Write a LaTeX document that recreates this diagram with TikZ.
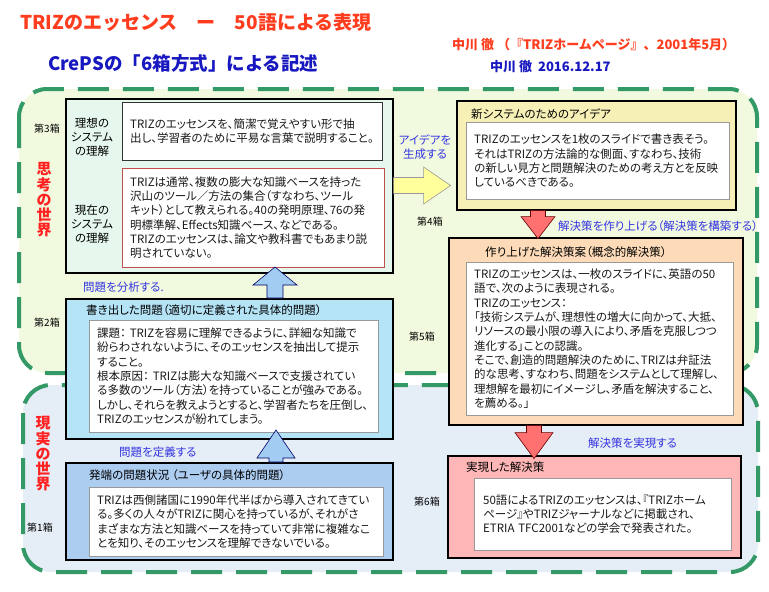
\documentclass[tikz,border=0pt]{standalone}
\usepackage{fontspec}
\setmainfont{Noto Sans CJK JP}[RawFeature=+palt]
\newfontfamily\headjp{Noto Sans CJK JP}
\usepackage{tikz}
\usetikzlibrary{shadows}
\definecolor{titlered}{HTML}{FF3C1E}
\definecolor{titleblue}{HTML}{1818C0}
\definecolor{labelblue}{HTML}{3434E0}
\definecolor{worldred}{HTML}{FF2020}
\definecolor{dashgreen}{HTML}{339966}
\definecolor{thinkfill}{HTML}{F1FADE}
\definecolor{realfill}{HTML}{E5EDF6}
\definecolor{boxthree}{HTML}{E6F8EE}
\definecolor{boxtwo}{HTML}{B6E4F7}
\definecolor{boxone}{HTML}{ACCCF0}
\definecolor{boxfour}{HTML}{F6EFB6}
\definecolor{boxfive}{HTML}{FDDBB8}
\definecolor{boxsix}{HTML}{FFB6B6}
\definecolor{nowred}{HTML}{C0504D}
\definecolor{ideayellow}{HTML}{FFFF9C}
\definecolor{solvered}{HTML}{FF7070}
\definecolor{problemblue}{HTML}{A2CCF2}
\newcommand{\boxfont}{\fontsize{11.5}{14.3}\selectfont}

\begin{document}
\begin{tikzpicture}[x=1pt, y=-1pt,
    world/.style={dashgreen, line width=4pt, dash pattern=on 31pt off 14pt, rounded corners=28pt},
    sixbox/.style={draw=black, line width=1.6pt, anchor=north west, inner sep=0pt},
    textbox/.style={draw=gray!80, fill=white, anchor=north west, align=left, inner xsep=8pt, inner ysep=0pt, font=\boxfont, text=black!90, drop shadow={shadow xshift=1.2pt, shadow yshift=-1.2pt, fill=gray!60, opacity=1}},
    boxtitle/.style={anchor=west, font=\boxfont, inner sep=0pt},
    boxno/.style={font=\fontsize{10}{12}\selectfont, inner sep=0pt},
    flowlabel/.style={anchor=west, font=\boxfont, text=labelblue, inner sep=0pt},
    worldlabel/.style={align=center, font=\fontsize{15}{15.2}\selectfont\bfseries, text=worldred, inner sep=0pt},
    ideaarrow/.style={fill=ideayellow, draw=gray!80, line width=0.6pt},
    solvearrow/.style={fill=solvered, draw=red!40!black, line width=0.6pt},
    probarrow/.style={fill=problemblue, draw=blue!40!black, line width=0.6pt}]
    \useasboundingbox (0,0) rectangle (769,592);
    \fill[white] (0,0) rectangle (769,592);

    % Title
    \node[anchor=west, font=\headjp\fontsize{19}{21}\selectfont\bfseries, text=titlered, inner sep=0pt] (title) at (20,22) {TRIZのエッセンス　ー　50語による表現};
    \node[anchor=west, font=\headjp\fontsize{13}{15}\selectfont\bfseries, text=titlered, inner sep=0pt] (source) at (452,45) {中川 徹 （『TRIZホームページ』、2001年5月）};
    \node[anchor=west, font=\headjp\fontsize{18.5}{20}\selectfont\bfseries, text=titleblue, inner sep=0pt] (subtitle) at (48,63) {CrePSの「6箱方式」による記述};
    \node[anchor=west, font=\headjp\fontsize{13}{15}\selectfont\bfseries, text=titleblue, inner sep=0pt] (date) at (490,67) {中川 徹\ \ 2016.12.17};

    % Two worlds
    \fill[thinkfill, rounded corners=28pt] (19,89) rectangle (757,373);
    \draw[world] (19,89) rectangle (757,373);
    \fill[realfill, rounded corners=28pt] (23,385) rectangle (758,572);
    \draw[world] (23,385) rectangle (758,572);
    \node[worldlabel] (think) at (44,200) {思\\考\\の\\世\\界};
    \node[worldlabel] (real) at (43,454) {現\\実\\の\\世\\界};

    % Box 3
    \node[sixbox, fill=boxthree, minimum width=327pt, minimum height=174pt] (b3) at (65,98) {};
    \node[textbox, draw=black!80, text width=244pt, minimum height=58pt] (ideal) at (122,102)
        {TRIZのエッセンスを、簡潔で覚えやすい形で抽\\出し、学習者のために平易な言葉で説明すること。};
    \node[textbox, draw=nowred, text width=246pt, minimum height=99pt] (now) at (122,168)
        {TRIZは通常、複数の膨大な知識ベースを持った\\沢山のツール／方法の集合（すなわち、ツール\\キット）として教えられる。40の発明原理、76の発\\明標準解、Effects知識ベース、などである。\\TRIZのエッセンスは、論文や教科書でもあまり説\\明されていない。};
    \node[align=center, font=\boxfont, inner sep=0pt] (ideallbl) at (92,137) {理想の\\システム\\の理解};
    \node[align=center, font=\boxfont, inner sep=0pt] (nowlbl) at (92,224) {現在の\\システム\\の理解};
    \node[boxno] (n3) at (47,129) {第3箱};

    % Box 2
    \node[sixbox, fill=boxtwo, minimum width=327pt, minimum height=140pt] (b2) at (65,298) {};
    \node[boxtitle] (t2) at (86,310) {書き出した問題（適切に定義された具体的問題）};
    \node[textbox, text width=273pt, minimum height=112pt] (i2) at (89,320)
        {課題：\ TRIZを容易に理解できるように、詳細な知識で\\紛らわされないように、そのエッセンスを抽出して提示\\すること。\\根本原因：\ TRIZは膨大な知識ベースで支援されてい\\る多数のツール（方法）を持っていることが強みである。\\しかし、それらを教えようとすると、学習者たちを圧倒し、\\TRIZのエッセンスが紛れてしまう。};
    \node[boxno] (n2) at (47,323) {第2箱};

    % Box 1
    \node[sixbox, fill=boxone, minimum width=327pt, minimum height=97pt] (b1) at (65,462) {};
    \node[boxtitle] (t1) at (89,475) {発端の問題状況 （ユーザの具体的問題）};
    \node[textbox, text width=278pt, minimum height=69pt] (i1) at (89,487)
        {TRIZは西側諸国に1990年代半ばから導入されてきてい\\る。多くの人々がTRIZに関心を持っているが、それがさ\\まざまな方法と知識ベースを持っていて非常に複雑なこ\\とを知り、そのエッセンスを理解できないでいる。};
    \node[boxno] (n1) at (40,528) {第1箱};

    % Box 4
    \node[sixbox, fill=boxfour, minimum width=279pt, minimum height=109pt] (b4) at (456,100) {};
    \node[boxtitle] (t4) at (471,114) {新システムのためのアイデア};
    \node[textbox, text width=247pt, minimum height=77pt] (i4) at (466,122)
        {TRIZのエッセンスを1枚のスライドで書き表そう。\\それはTRIZの方法論的な側面、すなわち、技術\\の新しい見方と問題解決のための考え方とを反映\\しているべきである。};
    \node[boxno] (n4) at (430,222) {第4箱};

    % Box 5
    \node[sixbox, fill=boxfive, minimum width=294pt, minimum height=187pt] (b5) at (448,237) {};
    \node[boxtitle] (t5) at (485,252) {作り上げた解決策案（概念的解決策）};
    \node[textbox, text width=251pt, minimum height=153pt] (i5) at (466,262)
        {TRIZのエッセンスは、一枚のスライドに、英語の50\\語で、次のように表現される。\\TRIZのエッセンス：\\「技術システムが、理想性の増大に向かって、大抵、\\リソースの最小限の導入により、矛盾を克服しつつ\\進化する」ことの認識。\\そこで、創造的問題解決のために、TRIZは弁証法\\的な思考、すなわち、問題をシステムとして理解し、\\理想解を最初にイメージし、矛盾を解決すること、\\を薦める。」};
    \node[boxno] (n5) at (422,337) {第5箱};

    % Box 6
    \node[sixbox, fill=boxsix, minimum width=293pt, minimum height=102pt] (b6) at (447,455) {};
    \node[boxtitle] (t6) at (466,467) {実現した解決策};
    \node[textbox, inner xsep=9pt, text width=239pt, minimum height=72pt] (i6) at (474,478)
        {50語によるTRIZのエッセンスは、『TRIZホーム\\ページ』やTRIZジャーナルなどに掲載され、\\ETRIA TFC2001などの学会で発表された。};
    \node[boxno] (n6) at (427,502) {第6箱};

    % Block arrows between boxes
    \coordinate (a34) at (b3.east |- 0,185.5);
    \draw[ideaarrow] (a34) ++(0,-8) -- ++(30,0) -- ++(0,-10.5) -- ++(27,18.5) -- ++(-27,18.5) -- ++(0,-10.5) -- ++(-30,0) -- cycle;
    \coordinate (a45) at (538,0 |- b4.south);
    \draw[solvearrow] (a45) ++(-7.5,0) -- ++(0,6) -- ++(-9.5,0) -- ++(17,22) -- ++(17,-22) -- ++(-9.5,0) -- ++(0,-6) -- cycle;
    \coordinate (a56) at (534,0 |- b5.south);
    \draw[solvearrow] (a56) ++(-7.5,0) -- ++(0,7) -- ++(-11.5,0) -- ++(19,26) -- ++(19,-26) -- ++(-11.5,0) -- ++(0,-7) -- cycle;
    \coordinate (a23) at (275,0 |- b2.north);
    \draw[probarrow] (a23) ++(-8,0) -- ++(0,-13) -- ++(-14,0) -- ++(22,-18) -- ++(22,18) -- ++(-14,0) -- ++(0,13) -- cycle;
    \coordinate (a12) at (276,0 |- b1.north);
    \draw[probarrow] (a12) ++(-7,0) -- ++(0,-4) -- ++(-12,0) -- ++(19,-28) -- ++(19,28) -- ++(-12,0) -- ++(0,4) -- cycle;

    % Arrow labels
    \node[align=center, font=\boxfont, text=labelblue, inner sep=0pt] (l34) at (425,147) {アイデアを\\生成する};
    \node[flowlabel] (l45) at (558,226) {解決策を作り上げる（解決策を構築する）};
    \node[flowlabel] (l56) at (588,443) {解決策を実現する};
    \node[flowlabel] (l23) at (83,287) {問題を分析する.};
    \node[flowlabel] (l12) at (119,452) {問題を定義する};
\end{tikzpicture}
\end{document}
